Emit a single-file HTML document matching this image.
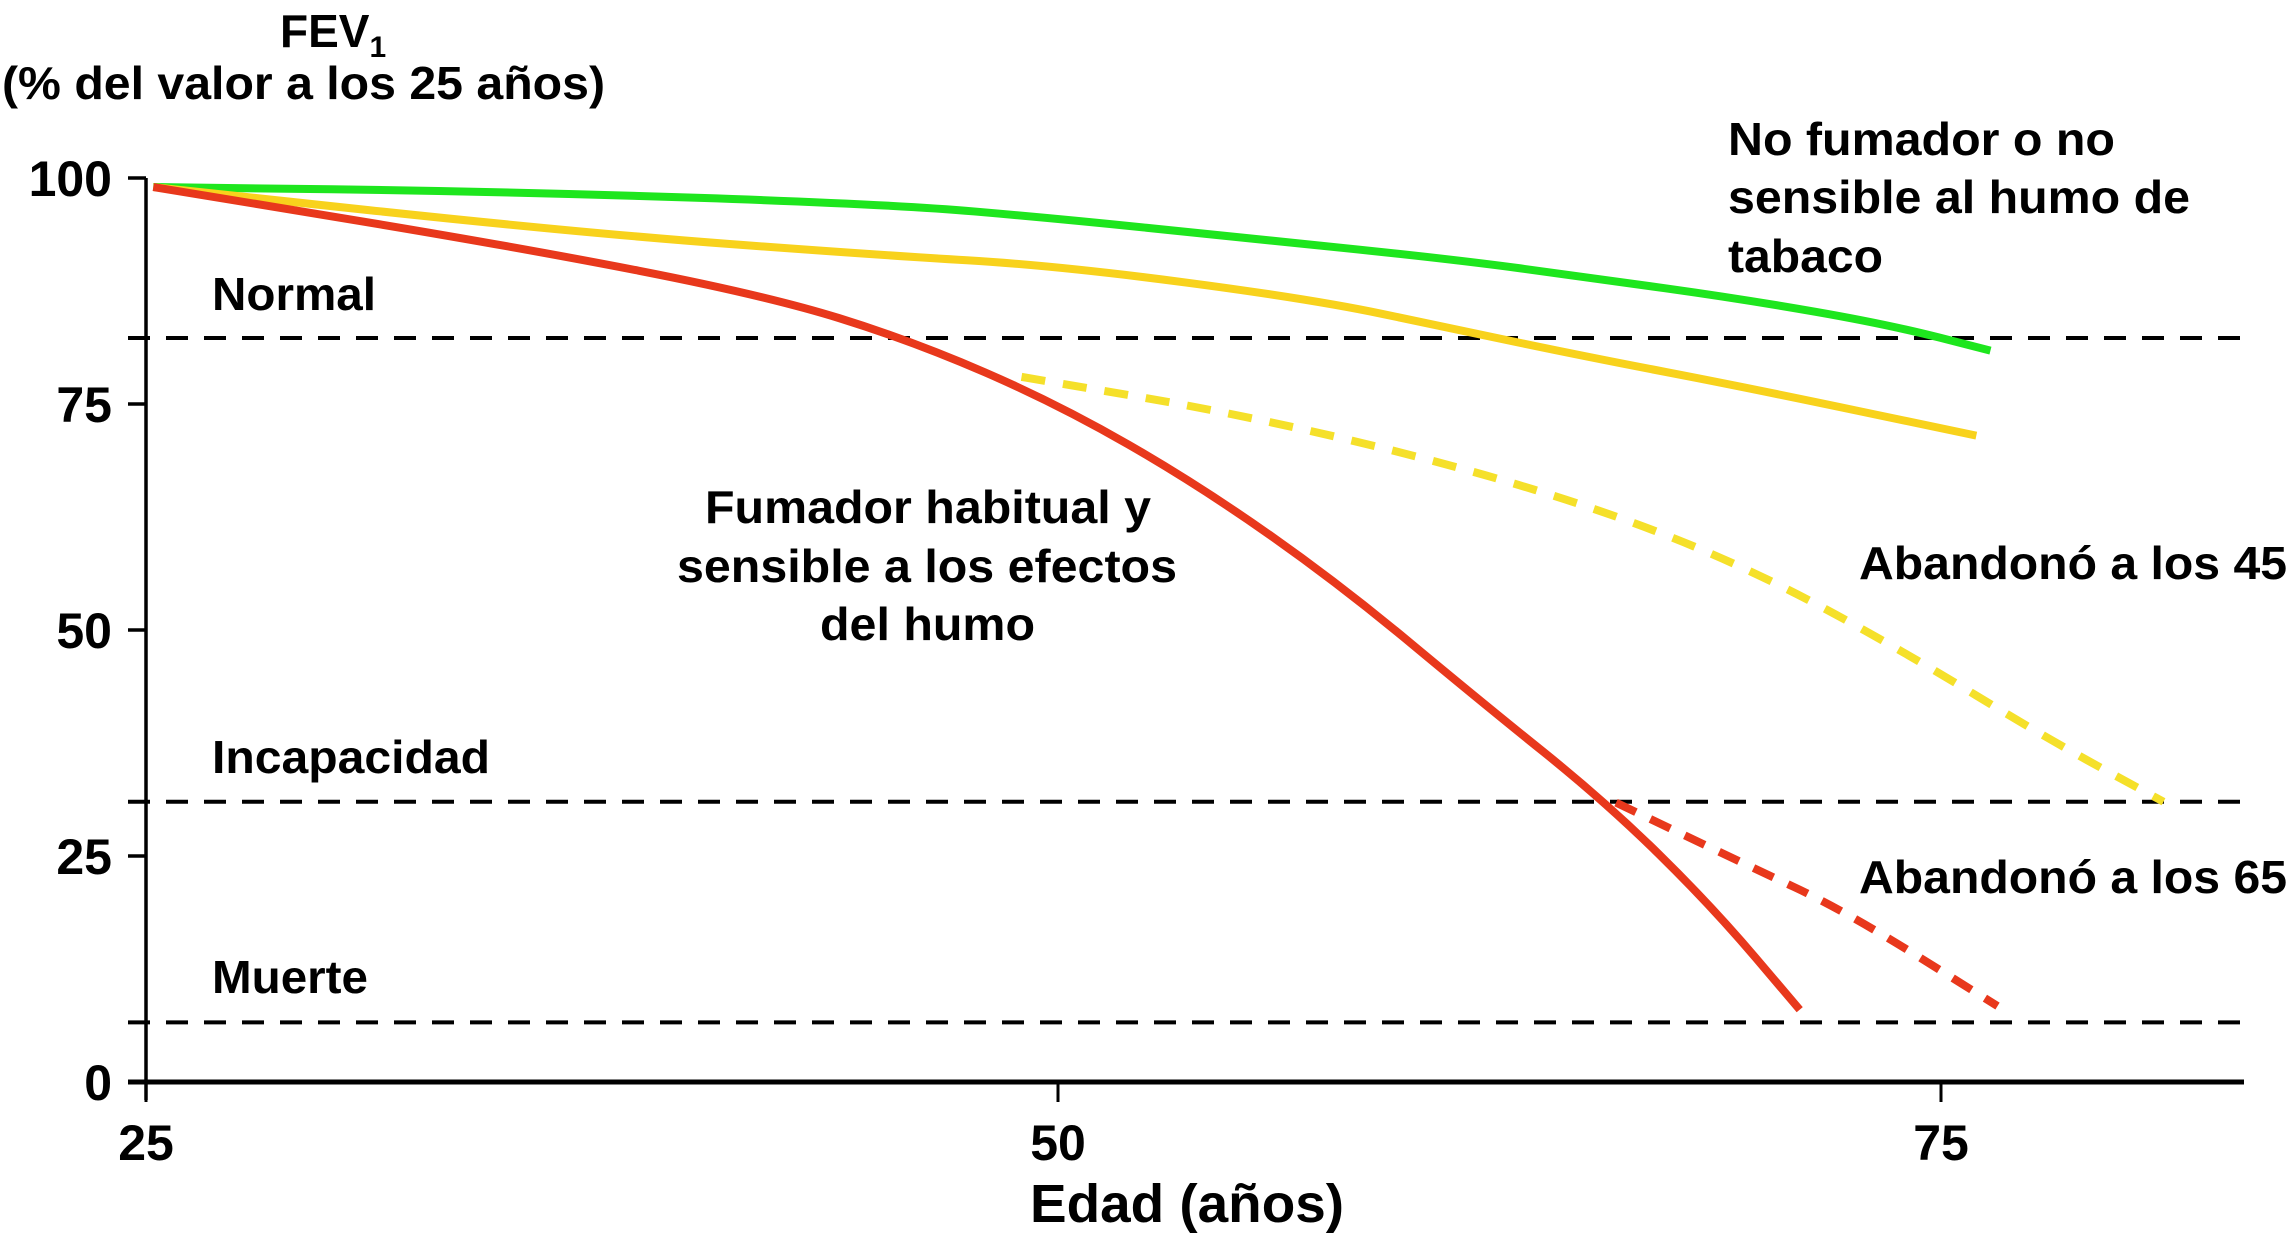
<!DOCTYPE html>
<html><head><meta charset="utf-8"><style>html,body{margin:0;padding:0;background:#fff}svg{display:block}text{font-family:"Liberation Sans",sans-serif;font-weight:bold;fill:#000}</style></head>
<body>
<svg id="chart" width="2292" height="1236" viewBox="0 0 2292 1236" xmlns="http://www.w3.org/2000/svg">
<text x="280" y="47" font-size="46" font-weight="bold">FEV<tspan font-size="30" dy="10">1</tspan></text>
<text x="2" y="99" font-size="46" textLength="603" lengthAdjust="spacingAndGlyphs">(% del valor a los 25 años)</text>
<text x="1030" y="1222" font-size="54" textLength="314" lengthAdjust="spacingAndGlyphs">Edad (años)</text>
<text x="212" y="310" font-size="46" textLength="164" lengthAdjust="spacingAndGlyphs">Normal</text>
<text x="212" y="773" font-size="46" textLength="278" lengthAdjust="spacingAndGlyphs">Incapacidad</text>
<text x="212" y="993" font-size="46" textLength="156" lengthAdjust="spacingAndGlyphs">Muerte</text>
<text font-size="46">
<tspan x="1728" y="155" textLength="387" lengthAdjust="spacingAndGlyphs">No fumador o no</tspan>
<tspan x="1728" y="213" textLength="462" lengthAdjust="spacingAndGlyphs">sensible al humo de</tspan>
<tspan x="1728" y="272" textLength="155" lengthAdjust="spacingAndGlyphs">tabaco</tspan></text>
<text font-size="46">
<tspan x="705" y="523" textLength="446" lengthAdjust="spacingAndGlyphs">Fumador habitual y</tspan>
<tspan x="677" y="582" textLength="500" lengthAdjust="spacingAndGlyphs">sensible a los efectos</tspan>
<tspan x="820" y="640" textLength="215" lengthAdjust="spacingAndGlyphs">del humo</tspan></text>
<text x="1859" y="579" font-size="46" textLength="428" lengthAdjust="spacingAndGlyphs">Abandonó a los 45</text>
<text x="1859" y="893" font-size="46" textLength="428" lengthAdjust="spacingAndGlyphs">Abandonó a los 65</text>
<g id="plot"></g>
</svg>
<script>
const xTicks = [25, 50, 75];
const yTicks = [0, 25, 50, 75, 100];
const thresholds = [82.3, 31, 6.6];
const greenAges = [25.2, 35, 45.4, 50, 55, 61.2, 65, 69.4, 73.5, 76.4];
const greenVals = [99, 98.5, 97.1, 95.5, 93.5, 91, 89, 86.6, 83.8, 80.9];
const yellowAges = [25.2, 37, 45, 50, 57.2, 61.2, 65, 69.4, 76];
const yellowVals = [99, 93.9, 91.5, 90.3, 86.6, 83.3, 80.2, 76.9, 71.5];
const yellowDashAges = [49, 55, 61, 66, 70, 74, 78, 81.3];
const yellowDashVals = [78, 74, 68.5, 62.5, 56, 47.5, 38, 31];
const redAges = [25.2, 35, 42, 46, 50, 54, 58, 62, 65.5, 68.5, 71];
const redVals = [99, 92.5, 87, 82, 75, 66, 55, 42, 31, 19.5, 8];
const redDashAges = [65.8, 69.4, 72.3, 76.6];
const redDashVals = [30.9, 24.2, 18.9, 8.4];

const xDom = [25, 50, 75], xRng = [146, 1058, 1941];
const X = a => a <= 50 ? xRng[0] + (a - 25) / 25 * (xRng[1] - xRng[0]) : xRng[1] + (a - 50) / 25 * (xRng[2] - xRng[1]);
const Y = v => 1082 - v * 9.04;
const NS = 'http://www.w3.org/2000/svg';
const g = document.getElementById('plot');
function mk(tag, attrs) { const e = document.createElementNS(NS, tag); for (const k in attrs) e.setAttribute(k, attrs[k]); g.appendChild(e); return e; }

thresholds.forEach((t, i) => {
  const l = mk('line', {x1: 128, x2: 2240, y1: Y(t), y2: Y(t), stroke: '#000', 'stroke-width': 4, 'stroke-dasharray': '22 16'});
  
  
});
const ya = mk('line', {x1: 146, x2: 146, y1: Y(100), y2: 1100, stroke: '#000', 'stroke-width': 3.5});


const xa = mk('line', {x1: 128, x2: 2244, y1: 1082, y2: 1082, stroke: '#000', 'stroke-width': 5});


yTicks.forEach(t => {
  const tk = mk('line', {x1: 128, x2: 146, y1: Y(t), y2: Y(t), stroke: '#000', 'stroke-width': 3.5});
  
  
  const tx = mk('text', {x: 112, y: Y(t) + 18, 'font-size': 50, 'text-anchor': 'end'});
  tx.textContent = t;
  
  
});
xTicks.forEach(t => {
  const tk = mk('line', {x1: X(t), x2: X(t), y1: 1082, y2: 1102, stroke: '#000', 'stroke-width': 3});
  
  
  const tx = mk('text', {x: X(t), y: 1160, 'font-size': 50, 'text-anchor': 'middle'});
  tx.textContent = t;
  
  
});
function curve(ages, vals, color, dash, name) {
  let d = 'M' + X(ages[0]) + ',' + Y(vals[0]);
  for (let i = 1; i < ages.length; i++) {
    const x0 = X(ages[i-1]), y0 = Y(vals[i-1]), x1 = X(ages[i]), y1 = Y(vals[i]);
    const xm = (x0 + x1) / 2, ym = (y0 + y1) / 2;
    if (i === 1) d += ' L' + xm + ',' + ym; else d += ' Q' + x0 + ',' + y0 + ' ' + xm + ',' + ym;
  }
  d += ' L' + X(ages[ages.length-1]) + ',' + Y(vals[vals.length-1]);
  const p = mk('path', {d: d, fill: 'none', stroke: color, 'stroke-width': 8});
  if (dash) p.setAttribute('stroke-dasharray', dash);
  
  
}
curve(yellowDashAges, yellowDashVals, '#f5e02a', '24 18', 'yellow-dashed-quit-45');
curve(redDashAges, redDashVals, '#e8381c', '22 16', 'red-dashed-quit-65');
curve(greenAges, greenVals, '#1ee61e', null, 'green-line-nonsmoker');
curve(yellowAges, yellowVals, '#f8d21c', null, 'yellow-line');
curve(redAges, redVals, '#e8381c', null, 'red-line-smoker');
</script>
</body></html>
